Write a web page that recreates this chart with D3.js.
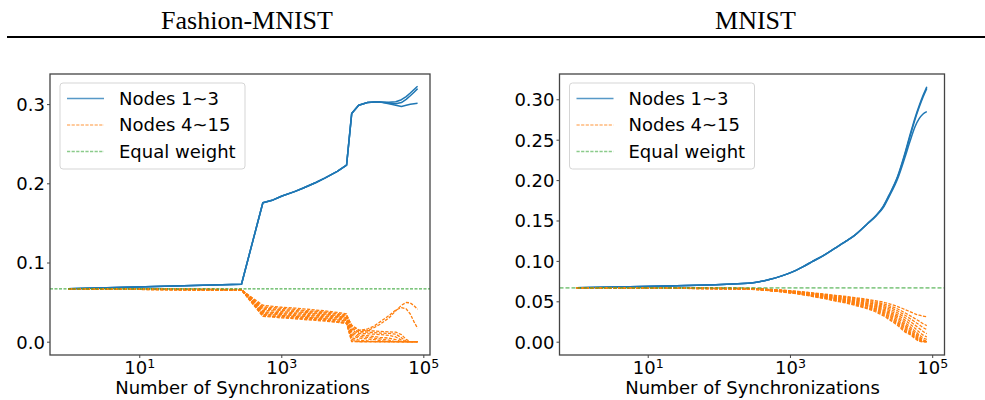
<!DOCTYPE html>
<html>
<head>
<meta charset="utf-8">
<script src="https://cdn.jsdelivr.net/npm/d3@7"></script>
<style>
  html, body { margin: 0; padding: 0; background: #fff; }
  svg { display: block; }
</style>
</head>
<body>
<div id="chart"></div>
<script>
// ---------------- DATA ----------------
const panelTitles = ["Fashion-MNIST", "MNIST"];
const xAxisLabel = "Number of Synchronizations";
const legendLabels = ["Nodes 1~3", "Nodes 4~15", "Equal weight"];
const equalWeight = 1 / 15;

const fashionYTicks = [0.0, 0.1, 0.2, 0.3];
const mnistYTicks = [0.00, 0.05, 0.10, 0.15, 0.20, 0.25, 0.30];
const xTickValues = [10, 1000, 100000];

// Fashion-MNIST: synchronization counts
const fashionX = [1, 275, 550, 768, 1024, 1536, 2048, 3072, 4096, 6144, 8300, 9800, 12288, 16384, 20480, 24576, 32768, 40960, 49152, 57344, 65536, 74000, 83000];

// Fashion-MNIST: nodes 1~3
const fashionBlue = [
  [.0667,.0725,.1755,.1790,.1840,.1895,.1940,.2010,.2065,.2150,.2230,.2880,.2985,.3020,.3028,.3025,.3022,.3030,.3055,.3095,.3140,.3185,.3225],
  [.0667,.0725,.1755,.1790,.1840,.1895,.1940,.2010,.2065,.2150,.2230,.2880,.2985,.3020,.3028,.3025,.3015,.3005,.3020,.3060,.3105,.3150,.3195],
  [.0667,.0725,.1755,.1790,.1840,.1895,.1940,.2010,.2065,.2150,.2230,.2880,.2985,.3020,.3028,.3025,.3005,.2985,.2970,.2985,.2998,.3005,.3010]
];

// Fashion-MNIST: nodes 4~15
const fashionOrange = [
  [.0667,.0652,.0460,.0445,.0435,.0425,.0415,.0400,.0390,.0370,.0350,.0180,.0120,.0140,.0180,.0220,.0300,.0390,.0460,.0495,.0490,.0455,.0410],
  [.0667,.0655,.0440,.0430,.0420,.0410,.0395,.0385,.0375,.0355,.0335,.0200,.0140,.0160,.0200,.0250,.0330,.0400,.0430,.0415,.0350,.0250,.0170],
  [.0667,.0658,.0425,.0415,.0405,.0395,.0385,.0375,.0365,.0345,.0325,.0210,.0150,.0140,.0135,.0130,.0125,.0120,.0090,.0030,.0000,.0000,.0000],
  [.0667,.0650,.0410,.0405,.0395,.0380,.0370,.0360,.0350,.0330,.0310,.0160,.0125,.0120,.0115,.0110,.0105,.0095,.0050,.0005,.0000,.0000,.0000],
  [.0667,.0660,.0395,.0390,.0380,.0365,.0360,.0350,.0340,.0320,.0305,.0140,.0105,.0100,.0095,.0090,.0080,.0060,.0020,.0000,.0000,.0000,.0000],
  [.0667,.0654,.0380,.0370,.0365,.0355,.0345,.0335,.0325,.0310,.0295,.0120,.0085,.0075,.0065,.0055,.0045,.0025,.0000,.0000,.0000,.0000,.0000],
  [.0667,.0657,.0370,.0360,.0355,.0340,.0335,.0325,.0315,.0300,.0280,.0100,.0065,.0055,.0045,.0035,.0020,.0000,.0000,.0000,.0000,.0000,.0000],
  [.0667,.0649,.0355,.0350,.0340,.0330,.0320,.0310,.0300,.0285,.0270,.0080,.0045,.0035,.0025,.0015,.0000,.0000,.0000,.0000,.0000,.0000,.0000],
  [.0667,.0661,.0345,.0340,.0330,.0320,.0310,.0300,.0290,.0275,.0260,.0050,.0020,.0010,.0000,.0000,.0000,.0000,.0000,.0000,.0000,.0000,.0000],
  [.0667,.0653,.0335,.0325,.0320,.0310,.0300,.0290,.0280,.0260,.0245,.0030,.0000,.0000,.0000,.0000,.0000,.0000,.0000,.0000,.0000,.0000,.0000],
  [.0667,.0656,.0325,.0320,.0310,.0300,.0290,.0280,.0270,.0250,.0235,.0010,.0000,.0000,.0000,.0000,.0000,.0000,.0000,.0000,.0000,.0000,.0000],
  [.0667,.0651,.0320,.0310,.0300,.0290,.0280,.0270,.0260,.0245,.0230,.0000,.0000,.0000,.0000,.0000,.0000,.0000,.0000,.0000,.0000,.0000,.0000]
];

// MNIST: synchronization counts
const mnistX = [1, 256, 512, 768, 1024, 1536, 2048, 3072, 4096, 6144, 8192, 12288, 16384, 20480, 24576, 32768, 40960, 49152, 57344, 65536, 73728, 84000];

// MNIST: nodes 1~3
const mnistBlue = [
  [.0667,.0722,.0770,.0815,.0855,.0930,.0990,.1075,.1145,.1245,.1320,.1460,.1565,.1675,.1810,.2050,.2320,.2570,.2770,.2920,.3040,.3156],
  [.0667,.0722,.0770,.0815,.0855,.0930,.0990,.1075,.1145,.1245,.1320,.1460,.1565,.1670,.1800,.2040,.2305,.2550,.2750,.2900,.3020,.3135],
  [.0667,.0722,.0770,.0815,.0855,.0930,.0990,.1075,.1145,.1245,.1320,.1460,.1560,.1660,.1790,.2020,.2270,.2490,.2660,.2760,.2815,.2847]
];

// MNIST: nodes 4~15
const mnistOrange = [
  [.0667,.0661,.0648,.0639,.0630,.0617,.0605,.0589,.0576,.0560,.0546,.0525,.0505,.0490,.0470,.0435,.0400,.0370,.0345,.0328,.0317,.0310],
  [.0667,.0660,.0647,.0637,.0628,.0614,.0601,.0584,.0570,.0552,.0537,.0513,.0490,.0470,.0448,.0405,.0360,.0320,.0285,.0255,.0225,.0200],
  [.0667,.0658,.0645,.0634,.0625,.0610,.0597,.0578,.0563,.0544,.0527,.0500,.0476,.0452,.0428,.0380,.0330,.0285,.0245,.0210,.0178,.0150],
  [.0667,.0657,.0643,.0632,.0622,.0606,.0592,.0572,.0556,.0536,.0518,.0489,.0462,.0436,.0408,.0355,.0300,.0250,.0205,.0165,.0130,.0100],
  [.0667,.0656,.0642,.0630,.0619,.0603,.0588,.0567,.0550,.0528,.0509,.0478,.0449,.0420,.0390,.0330,.0270,.0215,.0165,.0120,.0085,.0060],
  [.0667,.0655,.0640,.0628,.0617,.0600,.0584,.0562,.0544,.0521,.0500,.0467,.0436,.0405,.0372,.0308,.0243,.0183,.0130,.0085,.0050,.0030],
  [.0667,.0654,.0639,.0626,.0615,.0597,.0580,.0558,.0538,.0514,.0492,.0457,.0424,.0391,.0356,.0288,.0220,.0158,.0108,.0065,.0028,.0005],
  [.0667,.0653,.0637,.0624,.0612,.0594,.0576,.0553,.0532,.0507,.0484,.0447,.0412,.0377,.0340,.0268,.0198,.0135,.0088,.0048,.0012,.0000],
  [.0667,.0652,.0636,.0622,.0610,.0591,.0572,.0548,.0526,.0500,.0475,.0437,.0400,.0363,.0324,.0248,.0178,.0118,.0075,.0035,.0005,.0000],
  [.0667,.0651,.0634,.0620,.0607,.0587,.0568,.0543,.0520,.0492,.0466,.0426,.0388,.0349,.0308,.0230,.0160,.0105,.0062,.0025,.0000,.0000],
  [.0667,.0650,.0633,.0618,.0605,.0584,.0564,.0538,.0514,.0485,.0458,.0416,.0376,.0335,.0292,.0215,.0140,.0095,.0052,.0015,.0000,.0000],
  [.0667,.0649,.0631,.0616,.0602,.0581,.0560,.0533,.0508,.0478,.0450,.0406,.0364,.0321,.0276,.0200,.0125,.0085,.0040,.0008,.0000,.0000]
];

// ---------------- DRAWING ----------------
const W = 985, H = 400;
const FONT = "'DejaVu Sans', sans-serif";
const BLUE = "#1f77b4", ORANGE = "#ff7f0e", GREEN = "#2ca02c";

const svg = d3.select("#chart").append("svg")
  .attr("width", W).attr("height", H)
  .attr("viewBox", `0 0 ${W} ${H}`);

// Titles + rule
[[247, panelTitles[0]], [755.5, panelTitles[1]]].forEach(([cx, t]) => {
  svg.append("text").attr("x", cx).attr("y", 29)
    .attr("text-anchor", "middle")
    .style("font-family", "'Liberation Serif', 'Times New Roman', serif")
    .style("font-size", "26px").attr("fill", "#000")
    .text(t);
});
svg.append("line").attr("x1", 7).attr("x2", 985).attr("y1", 37).attr("y2", 37)
  .attr("stroke", "#000").attr("stroke-width", 2.2);

const panels = [
  {
    px: [50, 430], py: [355, 74],
    logDom: [-0.257, 5.094], yDom: [-0.01679, 0.3380],
    xs: fashionX, blue: fashionBlue, orange: fashionOrange,
    yTicks: fashionYTicks, yFmt: d3.format(".1f"),
    legend: { x: 60, y: 83 },
    green: { color: GREEN, width: 1.0, opacity: 1, dash: "3,1.5" },
    curve: d3.curveLinear,
    labelX: 242.5
  },
  {
    px: [559.5, 944.5], py: [355, 74],
    logDom: [-0.2405, 5.173], yDom: [-0.01646, 0.3313],
    xs: mnistX, blue: mnistBlue, orange: mnistOrange,
    yTicks: mnistYTicks, yFmt: d3.format(".2f"),
    legend: { x: 569.5, y: 83 },
    green: { color: GREEN, width: 1.6, opacity: 0.55, dash: "4,2" },
    curve: d3.curveMonotoneX,
    labelX: 752.5
  }
];

panels.forEach(p => {
  const x = d3.scaleLog().domain([Math.pow(10, p.logDom[0]), Math.pow(10, p.logDom[1])]).range(p.px);
  const y = d3.scaleLinear().domain(p.yDom).range(p.py);
  const g = svg.append("g");

  const line = d3.line().x(d => x(d[0])).y(d => y(d[1])).curve(p.curve);

  // Nodes 1~3
  p.blue.forEach(series => {
    g.append("path")
      .datum(series.map((v, i) => [p.xs[i], v]))
      .attr("d", line)
      .attr("fill", "none").attr("stroke", BLUE)
      .attr("stroke-width", 1.5).attr("stroke-linejoin", "round");
  });
  // Nodes 4~15
  p.orange.forEach(series => {
    g.append("path")
      .datum(series.map((v, i) => [p.xs[i], v]))
      .attr("d", line)
      .attr("fill", "none").attr("stroke", ORANGE)
      .attr("stroke-width", 1.3).attr("stroke-dasharray", "3.2,1.4")
      .attr("stroke-linejoin", "round");
  });
  // Equal weight
  g.append("line")
    .attr("x1", p.px[0]).attr("x2", p.px[1])
    .attr("y1", y(equalWeight)).attr("y2", y(equalWeight))
    .attr("stroke", p.green.color).attr("stroke-width", p.green.width)
    .attr("stroke-opacity", p.green.opacity)
    .attr("stroke-dasharray", p.green.dash);

  // Frame
  g.append("rect")
    .attr("x", p.px[0]).attr("y", p.py[1])
    .attr("width", p.px[1] - p.px[0]).attr("height", p.py[0] - p.py[1])
    .attr("fill", "none").attr("stroke", "#444").attr("stroke-width", 1.3);

  // Y axis
  const gy = g.append("g").attr("transform", `translate(${p.px[0]},0)`)
    .call(d3.axisLeft(y).tickValues(p.yTicks).tickFormat(p.yFmt).tickSize(3).tickPadding(2));
  gy.select(".domain").remove();
  gy.selectAll(".tick line").attr("stroke", "#444").attr("stroke-width", 1);
  gy.selectAll(".tick text").attr("fill", "#000")
    .style("font-family", FONT).style("font-size", "18px")
    .attr("dy", "0.36em");

  // X axis
  const gx = g.append("g").attr("transform", `translate(0,${p.py[0]})`)
    .call(d3.axisBottom(x).tickValues(xTickValues).tickSize(3).tickPadding(3));
  gx.select(".domain").remove();
  gx.selectAll(".tick line").attr("stroke", "#444").attr("stroke-width", 1);
  gx.selectAll(".tick text").each(function(d) {
    const t = d3.select(this);
    t.text(null).attr("fill", "#000")
      .style("font-family", FONT).style("font-size", "18px");
    t.append("tspan").text("10");
    t.append("tspan").attr("dy", "-0.42em").style("font-size", "12.6px")
      .text(String(Math.round(Math.log10(d))));
  });

  // X axis label
  g.append("text").attr("x", p.labelX).attr("y", 394)
    .attr("text-anchor", "middle")
    .style("font-family", FONT).style("font-size", "18px").attr("fill", "#000")
    .text(xAxisLabel);

  // Legend
  const L = p.legend;
  const lg = g.append("g");
  lg.append("rect").attr("x", L.x).attr("y", L.y).attr("width", 185).attr("height", 86)
    .attr("rx", 3).attr("fill", "#fff").attr("fill-opacity", 0.85)
    .attr("stroke", "#d5d5d5").attr("stroke-width", 1);
  const rows = [
    { c: BLUE, dash: null, op: 0.75 },
    { c: ORANGE, dash: "3.2,1.4", op: 0.55 },
    { c: GREEN, dash: "3.2,1.4", op: 0.55 }
  ];
  rows.forEach((r, i) => {
    const ry = L.y + 15.5 + i * 26.5;
    lg.append("line").attr("x1", L.x + 7).attr("x2", L.x + 44)
      .attr("y1", ry).attr("y2", ry)
      .attr("stroke", r.c).attr("stroke-width", 1.5).attr("stroke-opacity", r.op)
      .attr("stroke-dasharray", r.dash);
    lg.append("text").attr("x", L.x + 59).attr("y", ry).attr("dy", "0.36em")
      .style("font-family", FONT).style("font-size", "18px").attr("fill", "#000")
      .text(legendLabels[i]);
  });
});
</script>
</body>
</html>
